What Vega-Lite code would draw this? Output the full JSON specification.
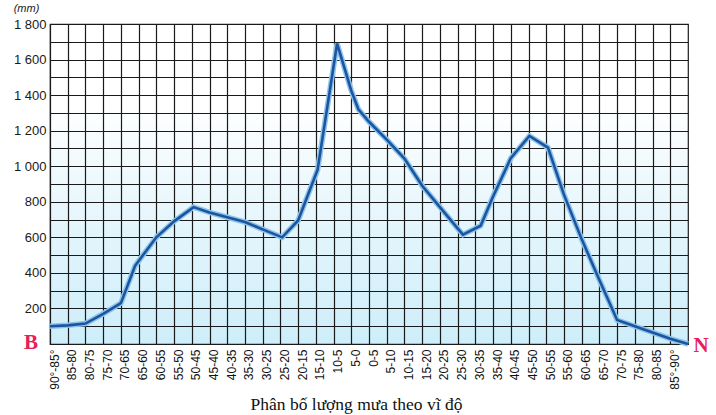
{
  "$schema": "https://vega.github.io/schema/vega-lite/v6.json",
  "width": 638,
  "height": 320,
  "autosize": "none",
  "padding": {"left": 50, "top": 24, "right": 28, "bottom": 71},
  "background": "white",
  "view": {
    "stroke": "#1c1c1c",
    "strokeWidth": 1.2,
    "fill": {
      "gradient": "linear",
      "x1": 0, "y1": 0, "x2": 0, "y2": 1,
      "stops": [
        {"offset": 0, "color": "#ffffff"},
        {"offset": 0.25, "color": "#ffffff"},
        {"offset": 0.6, "color": "#e6f6fc"},
        {"offset": 1, "color": "#cdeefa"}
      ]
    }
  },
  "config": {
    "axis": {
      "domain": false,
      "ticks": false,
      "gridColor": "#1a1a1a",
      "gridOpacity": 1,
      "gridWidth": 1.2
    }
  },
  "data": {
    "values": [
      {"lat": 90, "mm": 100},
      {"lat": 85, "mm": 105},
      {"lat": 80, "mm": 115},
      {"lat": 75, "mm": 170},
      {"lat": 70, "mm": 230},
      {"lat": 66, "mm": 440},
      {"lat": 60, "mm": 600},
      {"lat": 55, "mm": 690},
      {"lat": 49.5, "mm": 770},
      {"lat": 45, "mm": 740},
      {"lat": 40, "mm": 713},
      {"lat": 35, "mm": 686},
      {"lat": 30, "mm": 645},
      {"lat": 24.5, "mm": 600},
      {"lat": 20, "mm": 695},
      {"lat": 14.5, "mm": 980},
      {"lat": 9, "mm": 1690},
      {"lat": 5, "mm": 1425},
      {"lat": 3, "mm": 1320},
      {"lat": 0, "mm": 1250},
      {"lat": -5, "mm": 1150},
      {"lat": -10, "mm": 1043},
      {"lat": -15, "mm": 890},
      {"lat": -20, "mm": 770},
      {"lat": -25, "mm": 650},
      {"lat": -26.5, "mm": 615},
      {"lat": -31.5, "mm": 665},
      {"lat": -35, "mm": 830},
      {"lat": -40, "mm": 1045},
      {"lat": -45.25, "mm": 1170},
      {"lat": -50.5, "mm": 1105},
      {"lat": -55, "mm": 840},
      {"lat": -60, "mm": 590},
      {"lat": -65, "mm": 360},
      {"lat": -70, "mm": 135},
      {"lat": -75, "mm": 100},
      {"lat": -80, "mm": 65},
      {"lat": -85, "mm": 30},
      {"lat": -90, "mm": 0}
    ]
  },
  "encoding": {
    "x": {
      "field": "lat",
      "type": "quantitative",
      "scale": {"domain": [-90, 90], "reverse": true, "nice": false, "zero": false},
      "axis": {
        "values": [90, 85, 80, 75, 70, 65, 60, 55, 50, 45, 40, 35, 30, 25, 20, 15, 10, 5, 0, -5, -10, -15, -20, -25, -30, -35, -40, -45, -50, -55, -60, -65, -70, -75, -80, -85],
        "labelExpr": "datum.value == 90 ? '90°-85°' : datum.value == -85 ? '85°-90°' : datum.value > 0 ? datum.value + '-' + (datum.value - 5) : (-datum.value) + '-' + (5 - datum.value)",
        "labelAngle": -90,
        "labelOffset": 4,
        "labelPadding": 5,
        "labelFont": "Liberation Sans",
        "labelFontSize": 12,
        "labelColor": "#111111",
        "labelOverlap": false,
        "labelBound": false,
        "title": "Phân bố lượng mưa theo vĩ độ",
        "titleFont": "Liberation Serif",
        "titleFontSize": 17.5,
        "titleFontWeight": "normal",
        "titleColor": "#111111",
        "titleX": 306,
        "titleY": 65,
        "titleAlign": "center",
        "titleBaseline": "alphabetic"
      }
    },
    "y": {
      "field": "mm",
      "type": "quantitative",
      "scale": {"domain": [0, 1800], "nice": false},
      "axis": {
        "values": [0, 100, 200, 300, 400, 500, 600, 700, 800, 900, 1000, 1100, 1200, 1300, 1400, 1500, 1600, 1700, 1800],
        "labelExpr": "datum.value % 200 == 0 && datum.value > 0 ? replace(format(datum.value, ','), ',', ' ') : ''",
        "labelPadding": 4,
        "labelFont": "Liberation Sans",
        "labelFontSize": 13,
        "labelColor": "#1a1a1a",
        "labelOverlap": false,
        "title": "(mm)",
        "titleAngle": 0,
        "titleX": -24,
        "titleY": -13,
        "titleAlign": "center",
        "titleBaseline": "alphabetic",
        "titleFont": "Liberation Sans",
        "titleFontSize": 11,
        "titleFontStyle": "italic",
        "titleFontWeight": "normal",
        "titleColor": "#1a1a1a"
      }
    }
  },
  "layer": [
    {
      "mark": {"type": "line", "color": "#8ec3ea", "strokeWidth": 5.5}
    },
    {
      "mark": {"type": "line", "color": "#1b55a0", "strokeWidth": 2.6}
    },
    {
      "data": {"values": [{"lat": 90, "mm": 0, "t": "B"}]},
      "mark": {"type": "text", "font": "Liberation Serif", "fontWeight": "bold", "fontSize": 21, "color": "#e5205a", "align": "center", "baseline": "middle", "dx": -19, "dy": -1},
      "encoding": {"text": {"field": "t"}}
    },
    {
      "data": {"values": [{"lat": -90, "mm": 0, "t": "N"}]},
      "mark": {"type": "text", "font": "Liberation Serif", "fontWeight": "bold", "fontSize": 21, "color": "#e5205a", "align": "center", "baseline": "middle", "dx": 13, "dy": 2},
      "encoding": {"text": {"field": "t"}}
    }
  ]
}
